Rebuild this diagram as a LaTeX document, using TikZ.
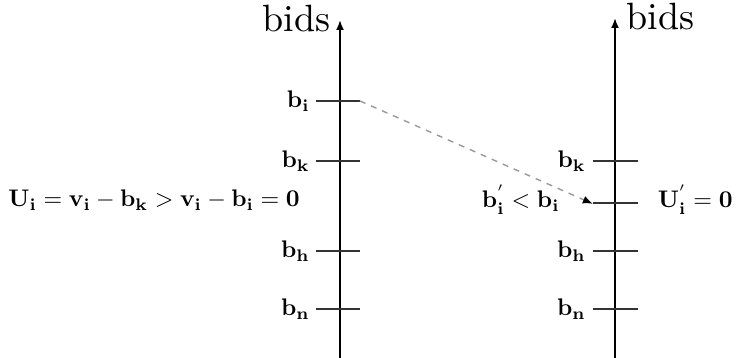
\documentclass[tikz,border=0pt]{standalone}
\usepackage{graphicx}
\usetikzlibrary{arrows.meta}
\newcommand{\lb}[1]{\scalebox{1.2}{$\mathbf{#1}$}}
\begin{document}
\begin{tikzpicture}[x=0.5pt,y=-0.5pt,
  axis/.style={line width=0.9pt,-{Latex[length=5pt,width=4pt]}},
  tick/.style={line width=0.8pt,draw=black!80},
  lbl/.style={inner sep=1pt},
  big/.style={inner sep=1pt},
  guide/.style={dashed,draw=black!40,line width=0.7pt,-{Latex[length=5pt,width=4pt,color=black]},shorten >=-1pt}]
\useasboundingbox (0,0) rectangle (738,358);
% axes
\coordinate (la0) at (340,358); \coordinate (la1) at (340,20);
\coordinate (ra0) at (615,358); \coordinate (ra1) at (615,18);
\draw[axis] (la0) -- (la1);
\draw[axis] (ra0) -- (ra1);
\node[big,anchor=east] (lbids) at (333,19) {\scalebox{1.9}{bids}};
\node[big,anchor=west] (rbids) at (624,17) {\scalebox{1.9}{bids}};
% left ticks
\foreach \n/\y in {bi/101,bk/161,bh/251,bn/309}{
  \coordinate (L\n a) at (316,\y); \coordinate (L\n b) at (360,\y);
  \draw[tick] (L\n a) -- (L\n b);
}
% right ticks
\foreach \n/\y in {bk/161,bp/203,bh/251,bn/309}{
  \coordinate (R\n a) at (593,\y); \coordinate (R\n b) at (638,\y);
  \draw[tick] (R\n a) -- (R\n b);
}
\node[lbl,anchor=east] (tbi) at (312,101) {\lb{b_i}};
\node[lbl,anchor=east] (tbk) at (312,161) {\lb{b_k}};
\node[lbl,anchor=east] (tbh) at (312,251) {\lb{b_h}};
\node[lbl,anchor=east] (tbn) at (312,309) {\lb{b_n}};
\node[lbl,anchor=east] (rbk) at (588,161) {\lb{b_k}};
\node[lbl,anchor=east] (rbh) at (588,251) {\lb{b_h}};
\node[lbl,anchor=east] (rbn) at (588,309) {\lb{b_n}};
\node[lbl,anchor=east] (rbp) at (562,200) {\lb{b_i^{'} < b_i}};
\node[lbl,anchor=west] (ui) at (6,200) {\lb{U_i = v_i - b_k > v_i - b_i = 0}};
\node[lbl,anchor=east] (uip) at (735,200) {\lb{U_i^{'} = 0}};
% dashed guide
\coordinate (ds) at (360,101); \coordinate (de) at (591,203);
\draw[guide] (ds) -- (de);
\end{tikzpicture}
\end{document}
